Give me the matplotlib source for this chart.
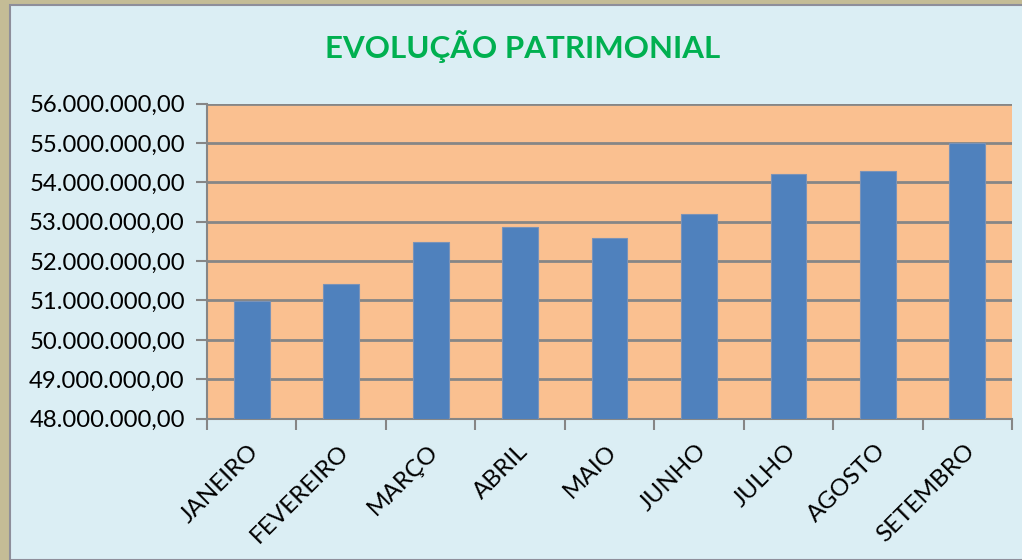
import matplotlib.pyplot as plt
import matplotlib.transforms as mtransforms
from matplotlib.patches import Rectangle
from matplotlib.ticker import FuncFormatter

meses = ['JANEIRO', 'FEVEREIRO', 'MARÇO', 'ABRIL', 'MAIO',
         'JUNHO', 'JULHO', 'AGOSTO', 'SETEMBRO']
patrimonio = [50980000, 51420000, 52480000, 52860000, 52580000,
              53200000, 54200000, 54280000, 55000000]
y_ticks = [48e6, 49e6, 50e6, 51e6, 52e6, 53e6, 54e6, 55e6, 56e6]

plt.rcParams['font.family'] = ['Lato', 'DejaVu Sans']

W, H = 1022, 560
fig = plt.figure(figsize=(W / 100, H / 100), dpi=100)
fig.patch.set_facecolor('#C4BC96')

# inner light-blue panel with grey border
fig.patches.append(Rectangle((10 / W, 0), 1, 1 - 5 / H, transform=fig.transFigure,
                             facecolor='#DBEEF4', edgecolor='#8E8E9A', linewidth=1.5,
                             zorder=-10))

ax = fig.add_axes([207 / W, 1 - 418.7 / H, (1012 - 207) / W, (418.7 - 103.5) / H])
ax.set_facecolor('#FAC090')

x = range(len(meses))
ax.bar(x, [v - 48e6 for v in patrimonio], bottom=48e6, width=0.4,
       color='#4F81BD', edgecolor='#7A93B8', linewidth=0.8, zorder=3)

ax.set_ylim(48e6, 56e6)
ax.set_xlim(-0.5, len(meses) - 0.5)
ax.set_yticks(y_ticks)
ax.yaxis.set_major_formatter(FuncFormatter(
    lambda v, p: f'{v:,.2f}'.replace(',', 'X').replace('.', ',').replace('X', '.')))
ax.grid(axis='y', color='#868686', linewidth=2, zorder=1)

ax.set_xticks([i - 0.5 for i in range(len(meses) + 1)])
ax.set_xticklabels([])
ax.set_xticks(list(x), minor=True)
ax.set_xticklabels(meses, minor=True, rotation=45, ha='right', va='center',
                   rotation_mode='anchor', fontsize=17.5)
ax.tick_params(axis='x', which='minor', length=0, pad=21)
ax.tick_params(axis='x', which='major', length=8, width=1.5, color='#868686')
ax.tick_params(axis='y', length=8, width=1.5, color='#868686', labelsize=17.2, pad=8)

# nudge month labels a little to the right
shift = mtransforms.ScaledTranslation(4 / 100, 0, fig.dpi_scale_trans)
for lbl in ax.get_xticklabels(minor=True):
    lbl.set_transform(lbl.get_transform() + shift)

for s in ['top', 'right']:
    ax.spines[s].set_visible(False)
for s in ['left', 'bottom']:
    ax.spines[s].set_color('#868686')
    ax.spines[s].set_linewidth(1.5)

fig.text(523 / W, 1 - 47 / H, 'EVOLUÇÃO PATRIMONIAL', ha='center', va='center',
         fontsize=22.5, fontweight='bold', color='#00B050')

fig.savefig('out.png', dpi=100, facecolor=fig.get_facecolor())
